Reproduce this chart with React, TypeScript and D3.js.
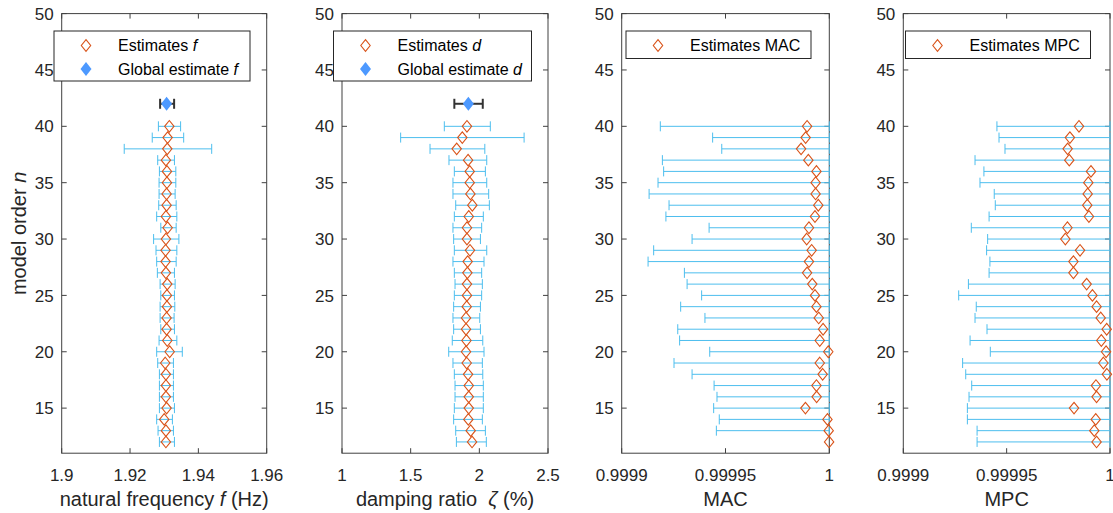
import React, { useEffect, useRef } from 'react'
import * as d3 from 'd3'

// model orders, top to bottom
const modelOrders = [40, 39, 38, 37, 36, 35, 34, 33, 32, 31, 30, 29, 28, 27, 26, 25, 24, 23, 22, 21, 20, 19, 18, 17, 16, 15, 14, 13, 12]
const globalOrder = 42

// natural frequency (Hz)
const freqEst = [1.9315, 1.9310, 1.9309, 1.9305, 1.9308, 1.9308, 1.9307, 1.9307, 1.9305, 1.9310, 1.9305, 1.9304, 1.9304, 1.9305, 1.9309, 1.9308, 1.9308, 1.9307, 1.9307, 1.9309, 1.9316, 1.9303, 1.9305, 1.9305, 1.9305, 1.9307, 1.9300, 1.9305, 1.9305]
const freqLo = [1.9283, 1.9265, 1.9183, 1.9281, 1.9286, 1.9285, 1.9285, 1.9284, 1.9278, 1.9290, 1.9269, 1.9276, 1.9278, 1.9280, 1.9288, 1.9290, 1.9288, 1.9288, 1.9290, 1.9285, 1.9278, 1.9281, 1.9286, 1.9286, 1.9286, 1.9286, 1.9278, 1.9282, 1.9286]
const freqHi = [1.9348, 1.9357, 1.9439, 1.9330, 1.9334, 1.9334, 1.9332, 1.9335, 1.9337, 1.9335, 1.9343, 1.9337, 1.9335, 1.9330, 1.9332, 1.9330, 1.9331, 1.9329, 1.9330, 1.9337, 1.9353, 1.9327, 1.9327, 1.9327, 1.9327, 1.9330, 1.9324, 1.9327, 1.9330]
const freqGlobal = { est: 1.9307, lo: 1.9288, hi: 1.9329 }

// damping ratio (%)
const dampEst = [1.910, 1.876, 1.835, 1.918, 1.930, 1.930, 1.935, 1.949, 1.923, 1.910, 1.910, 1.932, 1.915, 1.913, 1.910, 1.910, 1.908, 1.903, 1.903, 1.906, 1.903, 1.908, 1.918, 1.923, 1.923, 1.923, 1.920, 1.937, 1.947]
const dampLo = [1.745, 1.427, 1.641, 1.779, 1.818, 1.808, 1.808, 1.828, 1.818, 1.808, 1.813, 1.818, 1.808, 1.818, 1.823, 1.818, 1.813, 1.808, 1.813, 1.803, 1.777, 1.808, 1.818, 1.823, 1.823, 1.818, 1.813, 1.828, 1.833]
const dampHi = [2.080, 2.326, 2.040, 2.054, 2.044, 2.054, 2.068, 2.073, 2.029, 2.017, 2.008, 2.054, 2.034, 2.017, 2.022, 2.017, 2.008, 2.003, 2.008, 2.025, 2.034, 2.022, 2.025, 2.029, 2.029, 2.029, 2.022, 2.044, 2.051]
const dampGlobal = { est: 1.920, lo: 1.818, hi: 2.025 }

// MAC
const macEst = [0.9999893, 0.9999886, 0.9999864, 0.9999899, 0.9999938, 0.9999934, 0.9999934, 0.9999947, 0.9999931, 0.9999902, 0.9999891, 0.9999915, 0.9999902, 0.9999893, 0.9999918, 0.9999931, 0.9999938, 0.9999949, 0.9999970, 0.9999954, 0.9999995, 0.9999954, 0.9999968, 0.9999938, 0.9999939, 0.9999885, 0.9999991, 0.9999997, 0.9999999]
const macLo = [0.9999186, 0.9999438, 0.9999482, 0.9999196, 0.9999202, 0.9999175, 0.9999132, 0.9999228, 0.9999213, 0.9999421, 0.9999339, 0.9999154, 0.9999127, 0.9999302, 0.9999315, 0.9999385, 0.9999284, 0.9999401, 0.9999270, 0.9999279, 0.9999424, 0.9999252, 0.9999339, 0.9999445, 0.9999459, 0.9999443, 0.9999470, 0.9999456, null]

// MPC
const mpcEst = [0.9999850, 0.9999806, 0.9999795, 0.9999803, 0.9999908, 0.9999895, 0.9999892, 0.9999890, 0.9999898, 0.9999794, 0.9999784, 0.9999855, 0.9999823, 0.9999823, 0.9999887, 0.9999915, 0.9999935, 0.9999955, 0.9999984, 0.9999958, 0.9999981, 0.9999968, 0.9999985, 0.9999932, 0.9999935, 0.9999826, 0.9999931, 0.9999924, 0.9999935]
const mpcLo = [0.9999453, 0.9999463, 0.9999492, 0.9999347, 0.9999390, 0.9999371, 0.9999440, 0.9999445, 0.9999415, 0.9999329, 0.9999408, 0.9999403, 0.9999419, 0.9999415, 0.9999315, 0.9999268, 0.9999353, 0.9999347, 0.9999405, 0.9999323, 0.9999421, 0.9999287, 0.9999302, 0.9999331, 0.9999318, 0.9999310, 0.9999310, 0.9999357, 0.9999357]

// axes ticks
const orderTicks = [15, 20, 25, 30, 35, 40, 45, 50]
const freqTicks = [1.9, 1.92, 1.94, 1.96]
const freqTickLabels = ['1.9', '1.92', '1.94', '1.96']
const dampTicks = [1, 1.5, 2, 2.5]
const dampTickLabels = ['1', '1.5', '2', '2.5']
const indicatorTicks = [0.9999, 0.99995, 1]
const indicatorTickLabels = ['0.9999', '0.99995', '1']

const FONT = '"Liberation Sans", Arial, Helvetica, sans-serif'
const TEXT = '#262626'
const AXIS = '#404040'
const EST_COLOR = '#D95319'
const BAR_COLOR = '#4DBEEE'
const GLOBAL_COLOR = '#4D99FF'
const GLOBAL_BAR = '#333333'

const diamond = (hw, hh) => `M0,${-hh}L${hw},0L0,${hh}L${-hw},0Z`

const panels = [
    {
        left: 61.7, right: 266.7, domain: [1.9, 1.96],
        ticks: freqTicks, tickLabels: freqTickLabels,
        est: freqEst, lo: freqLo, hi: freqHi, global: freqGlobal,
        xlabel: [{ t: 'natural frequency ' }, { t: 'f', i: true }, { t: ' (Hz)' }],
        legend: { x: 54, w: 196, items: [[{ t: 'Estimates ' }, { t: 'f', i: true }], [{ t: 'Global estimate ' }, { t: 'f', i: true }]] }
    },
    {
        left: 342, right: 548, domain: [1, 2.5],
        ticks: dampTicks, tickLabels: dampTickLabels,
        est: dampEst, lo: dampLo, hi: dampHi, global: dampGlobal,
        xlabel: [{ t: 'damping ratio  ' }, { t: 'ζ', i: true }, { t: ' (%)' }],
        legend: { x: 333.5, w: 198, items: [[{ t: 'Estimates ' }, { t: 'd', i: true }], [{ t: 'Global estimate ' }, { t: 'd', i: true }]] }
    },
    {
        left: 621.7, right: 829.3, domain: [0.9999, 1],
        ticks: indicatorTicks, tickLabels: indicatorTickLabels,
        est: macEst, lo: macLo, hi: macEst.map(() => 1), global: null,
        xlabel: [{ t: 'MAC' }],
        legend: { x: 626, w: 185, items: [[{ t: 'Estimates MAC' }]] }
    },
    {
        left: 903.3, right: 1110, domain: [0.9999, 1],
        ticks: indicatorTicks, tickLabels: indicatorTickLabels,
        est: mpcEst, lo: mpcLo, hi: mpcEst.map(() => 1), global: null,
        xlabel: [{ t: 'MPC' }],
        legend: { x: 905.5, w: 185, items: [[{ t: 'Estimates MPC' }]] }
    }
]

const addRichText = (sel, parts) => {
    parts.forEach(p => {
        sel.append('tspan')
            .attr('font-style', p.i ? 'italic' : null)
            .text(p.t)
    })
}

export default function App() {
    const ref = useRef(null)

    useEffect(() => {
        const svg = d3.select(ref.current)
        svg.selectAll('*').remove()

        const y = d3.scaleLinear().domain([11, 50]).range([453.2, 13.6])
        const top = y(50), bottom = y(11)
        const tickLen = 5
        const capH = 5

        panels.forEach(p => {
            const g = svg.append('g')
            const x = d3.scaleLinear().domain(p.domain).range([p.left, p.right])

            // box
            g.append('rect')
                .attr('x', p.left).attr('y', top)
                .attr('width', p.right - p.left).attr('height', bottom - top)
                .attr('fill', 'none').attr('stroke', AXIS).attr('stroke-width', 1)

            // x ticks (bottom and top, inside)
            p.ticks.forEach((t, i) => {
                const xx = x(t)
                g.append('line').attr('x1', xx).attr('x2', xx).attr('y1', bottom).attr('y2', bottom - tickLen).attr('stroke', AXIS)
                g.append('line').attr('x1', xx).attr('x2', xx).attr('y1', top).attr('y2', top + tickLen).attr('stroke', AXIS)
                g.append('text')
                    .attr('x', xx).attr('y', 481)
                    .attr('text-anchor', 'middle')
                    .attr('font-family', FONT).attr('font-size', 17).attr('fill', TEXT)
                    .text(p.tickLabels[i])
            })

            // y ticks
            orderTicks.forEach(t => {
                const yy = y(t)
                g.append('line').attr('x1', p.left).attr('x2', p.left + tickLen).attr('y1', yy).attr('y2', yy).attr('stroke', AXIS)
                g.append('line').attr('x1', p.right).attr('x2', p.right - tickLen).attr('y1', yy).attr('y2', yy).attr('stroke', AXIS)
                g.append('text')
                    .attr('x', p.left - 8).attr('y', yy).attr('dy', '0.36em')
                    .attr('text-anchor', 'end')
                    .attr('font-family', FONT).attr('font-size', 17).attr('fill', TEXT)
                    .text(t)
            })

            // x label
            const xl = g.append('text')
                .attr('x', (p.left + p.right) / 2).attr('y', 506)
                .attr('text-anchor', 'middle')
                .attr('font-family', FONT).attr('font-size', 20).attr('fill', TEXT)
                .style('white-space', 'pre')
            addRichText(xl, p.xlabel)

            // error bars of the estimates
            const rows = modelOrders.map((n, i) => ({ n, est: p.est[i], lo: p.lo[i], hi: p.hi[i] }))
            const bars = g.append('g').attr('stroke', BAR_COLOR).attr('stroke-width', 1).attr('fill', 'none')
            rows.filter(d => d.lo != null).forEach(d => {
                const yy = y(d.n)
                bars.append('line').attr('x1', x(d.lo)).attr('x2', x(d.hi)).attr('y1', yy).attr('y2', yy)
                bars.append('line').attr('x1', x(d.lo)).attr('x2', x(d.lo)).attr('y1', yy - capH).attr('y2', yy + capH)
                bars.append('line').attr('x1', x(d.hi)).attr('x2', x(d.hi)).attr('y1', yy - capH).attr('y2', yy + capH)
            })

            // estimates
            g.append('g')
                .selectAll('path')
                .data(rows)
                .join('path')
                .attr('d', diamond(4.7, 5.8))
                .attr('transform', d => `translate(${x(d.est)},${y(d.n)})`)
                .attr('fill', 'none')
                .attr('stroke', EST_COLOR)
                .attr('stroke-width', 1.1)

            // global estimate
            if (p.global) {
                const gy = y(globalOrder)
                const ge = g.append('g').attr('stroke', GLOBAL_BAR).attr('stroke-width', 2)
                ge.append('line').attr('x1', x(p.global.lo)).attr('x2', x(p.global.hi)).attr('y1', gy).attr('y2', gy)
                ge.append('line').attr('x1', x(p.global.lo)).attr('x2', x(p.global.lo)).attr('y1', gy - capH).attr('y2', gy + capH)
                ge.append('line').attr('x1', x(p.global.hi)).attr('x2', x(p.global.hi)).attr('y1', gy - capH).attr('y2', gy + capH)
                g.append('path')
                    .attr('d', diamond(5.5, 7))
                    .attr('transform', `translate(${x(p.global.est)},${gy})`)
                    .attr('fill', GLOBAL_COLOR)
            }

            // legend
            const lg = p.legend
            const lh = lg.items.length === 2 ? 50 : 27.5
            g.append('rect')
                .attr('x', lg.x).attr('y', 31)
                .attr('width', lg.w).attr('height', lh)
                .attr('fill', '#fff').attr('stroke', TEXT).attr('stroke-width', 1)
            lg.items.forEach((item, i) => {
                const ly = 45.5 + i * 23.5
                g.append('path')
                    .attr('d', i === 0 ? diamond(4.7, 5.8) : diamond(5.5, 7))
                    .attr('transform', `translate(${lg.x + 32},${ly})`)
                    .attr('fill', i === 0 ? 'none' : GLOBAL_COLOR)
                    .attr('stroke', i === 0 ? EST_COLOR : 'none')
                    .attr('stroke-width', 1.1)
                const t = g.append('text')
                    .attr('x', lg.x + 64).attr('y', ly).attr('dy', '0.36em')
                    .attr('font-family', FONT).attr('font-size', 16).attr('fill', '#000')
                    .style('white-space', 'pre')
                addRichText(t, item)
            })
        })

        // y label
        const yl = svg.append('text')
            .attr('transform', `translate(26,${(y(11) + y(50)) / 2}) rotate(-90)`)
            .attr('text-anchor', 'middle')
            .attr('font-family', FONT).attr('font-size', 20).attr('fill', TEXT)
            .style('white-space', 'pre')
        addRichText(yl, [{ t: 'model order ' }, { t: 'n', i: true }])
    }, [])

    return (
        <svg ref={ref} width={1113} height={513} style={{ position: 'absolute', left: 0, top: 0, background: '#fff' }} />
    )
}
